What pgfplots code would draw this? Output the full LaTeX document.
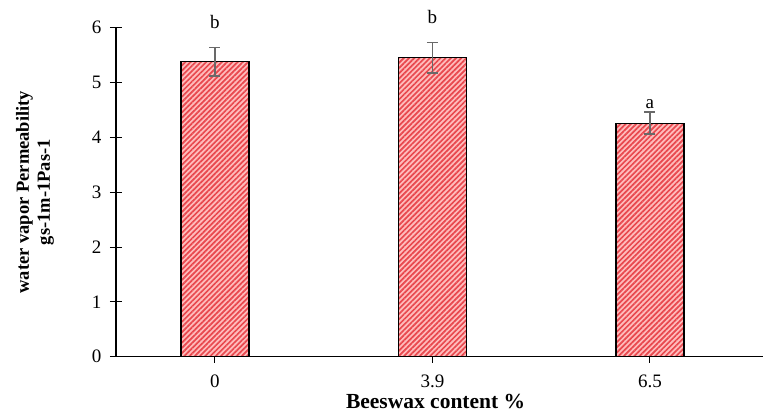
\documentclass[border=0pt]{standalone}
\usepackage{pgfplots}
\pgfplotsset{compat=1.18}
\usepackage{fontspec}
\setmainfont{Liberation Serif}
\usetikzlibrary{patterns.meta}
\definecolor{stripe}{RGB}{232,72,78}
\definecolor{pinkbg}{RGB}{255,188,188}
\definecolor{errgray}{RGB}{105,105,105}
\begin{document}
\begin{tikzpicture}
\begin{axis}[
  scale only axis,
  width=647pt, height=329pt,
  xmin=-0.455, xmax=2.52,
  ymin=0, ymax=6,
  axis lines=left,
  axis line style={-, line width=1.3pt, black},
  xtick={0,1,2},
  xticklabels={0,3.9,6.5},
  ytick={0,1,...,6},
  tick align=center,
  major tick length=12pt,
  tick style={line width=1pt, black},
  ticklabel style={font=\fontsize{19}{22}\selectfont},
  /pgf/number format/assume math mode=true,
  yticklabel style={xshift=-5pt},
  xticklabel style={yshift=-9pt},
  clip=false,
]
\addplot[
  ybar, bar width=68pt,
  draw=black, line width=1.2pt,
  fill=pinkbg,
  postaction={pattern={Lines[angle=45,distance=3.7pt,line width=1.7pt]}, pattern color=stripe},
  error bars/.cd, y dir=both, y explicit,
  error bar style={errgray, line width=1.5pt},
  error mark options={rotate=90, mark size=5.5pt, errgray, line width=1.5pt},
] coordinates {
  (0,5.38) +- (0,0.26)
  (1,5.45) +- (0,0.28)
  (2,4.26) +- (0,0.20)
};
\node[font=\fontsize{19}{22}\selectfont, anchor=base, inner sep=0pt] at (axis cs:0,5.64) [yshift=19pt] {b};
\node[font=\fontsize{19}{22}\selectfont, anchor=base, inner sep=0pt] at (axis cs:1,5.73) [yshift=19pt] {b};
\node[font=\fontsize{19}{22}\selectfont, anchor=base, inner sep=0pt] at (axis cs:2,4.46) [yshift=4pt] {a};
\node[font=\fontsize{21.5}{24}\selectfont\bfseries, anchor=base, inner sep=0pt] at (axis description cs:0.494,-0.157) {Beeswax content \%};
\node[font=\fontsize{18.5}{21}\selectfont\bfseries, rotate=90, align=center, inner sep=0pt] at (axis description cs:-0.125,0.5) {water vapor Permeability\\gs-1m-1Pas-1};
\end{axis}
\pgfresetboundingbox
\path[use as bounding box] (current axis.south west) ++(-116pt,-63.3pt) rectangle ++(763pt,420pt);
\end{tikzpicture}
\end{document}
